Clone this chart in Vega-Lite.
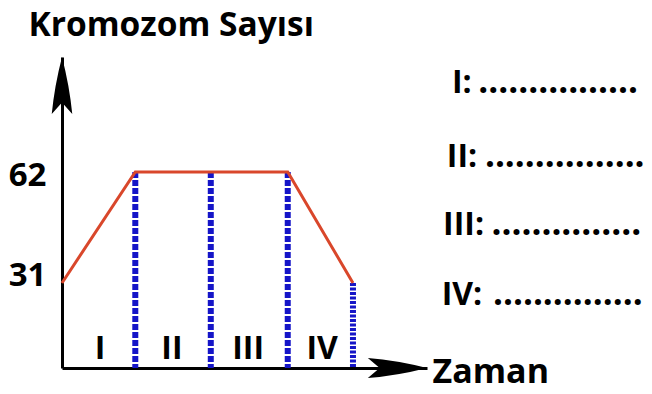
{
  "$schema": "https://vega.github.io/schema/vega-lite/v6.json",
  "width": 365,
  "height": 311,
  "autosize": "none",
  "padding": {"left": 62, "top": 57, "right": 225, "bottom": 26},
  "background": "white",
  "config": {"view": {"stroke": null}},
  "datasets": {
    "curve": [
      {"t": 0, "n": 31},
      {"t": 1.0, "n": 62},
      {"t": 3.08, "n": 62},
      {"t": 3.97, "n": 31}
    ],
    "bounds": [
      {"t": 1.0, "top": 62, "kind": "a"},
      {"t": 2.03, "top": 62, "kind": "a"},
      {"t": 3.08, "top": 62, "kind": "a"},
      {"t": 3.97, "top": 31, "kind": "b"}
    ],
    "phases": [
      {"phase": "I", "mid": 0.52},
      {"phase": "II", "mid": 1.5},
      {"phase": "III", "mid": 2.54},
      {"phase": "IV", "mid": 3.55}
    ],
    "answers": [
      {"label": "I:", "dots": "................", "x": 5.32, "dotx": 5.68, "y": 84.05},
      {"label": "II:", "dots": "................", "x": 5.25, "dotx": 5.77, "y": 63.4},
      {"label": "III:", "dots": "...............", "x": 5.2, "dotx": 5.86, "y": 44.4},
      {"label": "IV:", "dots": "...............", "x": 5.18, "dotx": 5.88, "y": 24.85}
    ],
    "arrows": [
      {"t": 0, "n": 94.1, "dir": "up"},
      {"t": 4.98, "n": 7.25, "dir": "right"}
    ]
  },
  "layer": [
    {
      "data": {"name": "bounds"},
      "mark": {"type": "rule", "strokeWidth": 6, "color": "#1515c8"},
      "encoding": {
        "x": {"field": "t", "type": "quantitative", "scale": {"domain": [0, 4.98], "nice": false, "zero": false},
              "axis": {"title": "Zaman", "labels": false, "ticks": false, "tickSize": 0, "grid": false,
                       "domainColor": "black", "domainWidth": 3,
                       "titleX": 370, "titleY": 14, "titleAlign": "left", "titleBaseline": "alphabetic",
                       "titleFont": "Open Sans", "titleFontSize": 34, "titleFontWeight": "bold", "titleColor": "black"}},
        "y": {"field": "top", "type": "quantitative", "scale": {"domain": [7.25, 94.1], "nice": false, "zero": false},
              "axis": {"title": "Kromozom Sayısı", "values": [31, 62], "ticks": false, "tickSize": 0, "grid": false,
                       "domainColor": "black", "domainWidth": 3,
                       "labelFont": "Open Sans", "labelFontSize": 33, "labelFontWeight": "bold", "labelColor": "black",
                       "labelPadding": 16, "labelBaseline": "middle",
                       "labelOffset": {"condition": {"test": "datum.value === 31", "value": -7}, "value": 4},
                       "titleAngle": 0, "titleX": -34, "titleY": -22, "titleAlign": "left", "titleBaseline": "alphabetic",
                       "titleFont": "Open Sans", "titleFontSize": 33.5, "titleFontWeight": "bold", "titleColor": "black"}},
        "y2": {"datum": 7.25},
        "strokeDash": {"field": "kind", "type": "nominal", "scale": {"domain": ["a", "b"], "range": [[6, 2], [3, 1.5]]}, "legend": null}
      }
    },
    {
      "data": {"name": "curve"},
      "mark": {"type": "line", "color": "#d9472b", "strokeWidth": 3},
      "encoding": {
        "x": {"field": "t", "type": "quantitative"},
        "y": {"field": "n", "type": "quantitative"}
      }
    },
    {
      "data": {"name": "arrows"},
      "transform": [{"filter": "datum.dir === 'up'"}],
      "mark": {"type": "point", "filled": true, "color": "black", "opacity": 1, "size": 13000,
               "shape": "M0,0Q-0.13,0.5,-0.18,1L0,0.8L0.18,1Q0.13,0.5,0,0Z"},
      "encoding": {
        "x": {"field": "t", "type": "quantitative"},
        "y": {"field": "n", "type": "quantitative"}
      }
    },
    {
      "data": {"name": "arrows"},
      "transform": [{"filter": "datum.dir === 'right'"}],
      "mark": {"type": "point", "filled": true, "color": "black", "opacity": 1, "size": 14000,
               "shape": "M0,0Q-0.5,-0.13,-1,-0.17L-0.8,0L-1,0.17Q-0.5,0.13,0,0Z"},
      "encoding": {
        "x": {"field": "t", "type": "quantitative"},
        "y": {"field": "n", "type": "quantitative"}
      }
    },
    {
      "data": {"name": "phases"},
      "mark": {"type": "text", "font": "Open Sans", "fontSize": 32, "fontWeight": "bold", "color": "black", "align": "center", "baseline": "alphabetic"},
      "encoding": {
        "x": {"field": "mid", "type": "quantitative"},
        "y": {"datum": 9.8},
        "text": {"field": "phase"}
      }
    },
    {
      "data": {"name": "answers"},
      "mark": {"type": "text", "font": "Open Sans", "fontSize": 32, "fontWeight": "bold", "color": "black", "align": "left", "baseline": "alphabetic"},
      "encoding": {
        "x": {"field": "x", "type": "quantitative"},
        "y": {"field": "y", "type": "quantitative"},
        "text": {"field": "label"}
      }
    },
    {
      "data": {"name": "answers"},
      "mark": {"type": "text", "font": "Open Sans", "fontSize": 35, "fontWeight": "bold", "color": "black", "align": "left", "baseline": "alphabetic"},
      "encoding": {
        "x": {"field": "dotx", "type": "quantitative"},
        "y": {"field": "y", "type": "quantitative"},
        "text": {"field": "dots"}
      }
    }
  ]
}
